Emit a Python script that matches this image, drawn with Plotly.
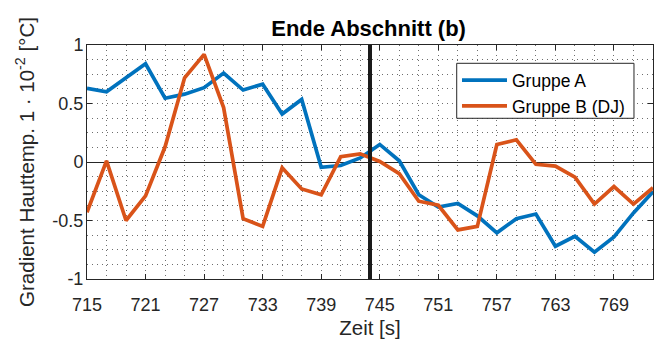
import plotly.graph_objects as go

# ---- data ----
zeit = [715, 717, 719, 721, 723, 725, 727, 729, 731, 733, 735, 737, 739, 741, 743,
        745, 747, 749, 751, 753, 755, 757, 759, 761, 763, 765, 767, 769, 771, 773]
gruppe_a = [0.63, 0.60, 0.72, 0.84, 0.545, 0.58, 0.635, 0.76, 0.615, 0.665, 0.41, 0.535,
            -0.045, -0.03, 0.035, 0.15, 0.01, -0.28, -0.385, -0.355, -0.46, -0.605,
            -0.485, -0.445, -0.72, -0.635, -0.77, -0.64, -0.435, -0.255]
gruppe_b = [-0.43, 0.01, -0.5, -0.29, 0.13, 0.72, 0.92, 0.465, -0.485, -0.55, -0.05, -0.23,
            -0.28, 0.045, 0.07, 0.005, -0.10, -0.335, -0.37, -0.58, -0.55, 0.15, 0.19,
            -0.02, -0.035, -0.13, -0.36, -0.21, -0.36, -0.22]
marker_zeit = 744
x_tickvals = [715, 721, 727, 733, 739, 745, 751, 757, 763, 769]
y_tickvals = [-1, -0.5, 0, 0.5, 1]
y_ticktext = ["-1", "-0.5", "0", "0.5", "1"]

FONT = "Liberation Sans, Arial, sans-serif"
AX = "#262626"
GRID = "#6e6e6e"
DOT = "1px,4px"

fig = go.Figure()
fig.add_trace(go.Scatter(x=zeit, y=gruppe_a, mode="lines", name="Gruppe A",
                         line=dict(color="#0072BD", width=3.7)))
fig.add_trace(go.Scatter(x=zeit, y=gruppe_b, mode="lines", name="Gruppe B (DJ)",
                         line=dict(color="#D95319", width=3.7)))

fig.add_vline(x=marker_zeit, line=dict(color="#1a1a1a", width=4), layer="above")

# legend frame (white box behind the legend entries)
fig.add_shape(type="rect", xref="paper", yref="paper",
              x0=0.6532, x1=0.9664, y0=0.6868, y1=0.9218,
              fillcolor="white", line=dict(color=AX, width=1), layer="above")

axis_common = dict(
    showline=True, linecolor=AX, linewidth=1, mirror="ticks",
    ticks="inside", ticklen=5, tickcolor=AX, tickwidth=1,
    showgrid=True, gridcolor=GRID, griddash=DOT, gridwidth=1,
    tickfont=dict(family=FONT, size=18, color=AX),
    automargin=False,
)

fig.update_xaxes(
    range=[715, 773], tickmode="array", tickvals=x_tickvals,
    zeroline=False,
    minor=dict(tick0=715, dtick=2, showgrid=True, gridcolor=GRID, griddash=DOT, gridwidth=1, ticks=""),
    title=dict(text="Zeit [s]", font=dict(family=FONT, size=20.5, color=AX), standoff=7),
    ticklabelstandoff=9,
    **axis_common,
)
fig.update_yaxes(
    range=[-1, 1], tickmode="array", tickvals=y_tickvals, ticktext=y_ticktext,
    zeroline=True, zerolinecolor=AX, zerolinewidth=1,
    minor=dict(tick0=0, dtick=0.125, showgrid=True, gridcolor=GRID, griddash=DOT, gridwidth=1, ticks=""),
    title=dict(text="Gradient Hauttemp. 1 · 10<sup>-2</sup> [°C]",
               font=dict(family=FONT, size=20.5, color=AX), standoff=12),
    ticklabelstandoff=-1,
    **axis_common,
)

fig.update_layout(
    width=657, height=340,
    margin=dict(l=87, r=4, t=45, b=61),
    paper_bgcolor="white", plot_bgcolor="white",
    title=dict(text="<b>Ende Abschnitt (b)</b>", x=0.561, xanchor="center",
               y=0.918, yanchor="middle", yref="container",
               font=dict(family=FONT, size=22, color="#000000")),
    legend=dict(x=0.6537, xanchor="left", y=0.926, yanchor="top",
                bgcolor="rgba(0,0,0,0)", borderwidth=0,
                font=dict(family=FONT, size=17.5, color="#000000"),
                itemwidth=45, tracegroupgap=0),
    showlegend=True,
)

fig.write_html("out.html", config={"displayModeBar": False},
               post_script="document.body.style.margin='0';")
